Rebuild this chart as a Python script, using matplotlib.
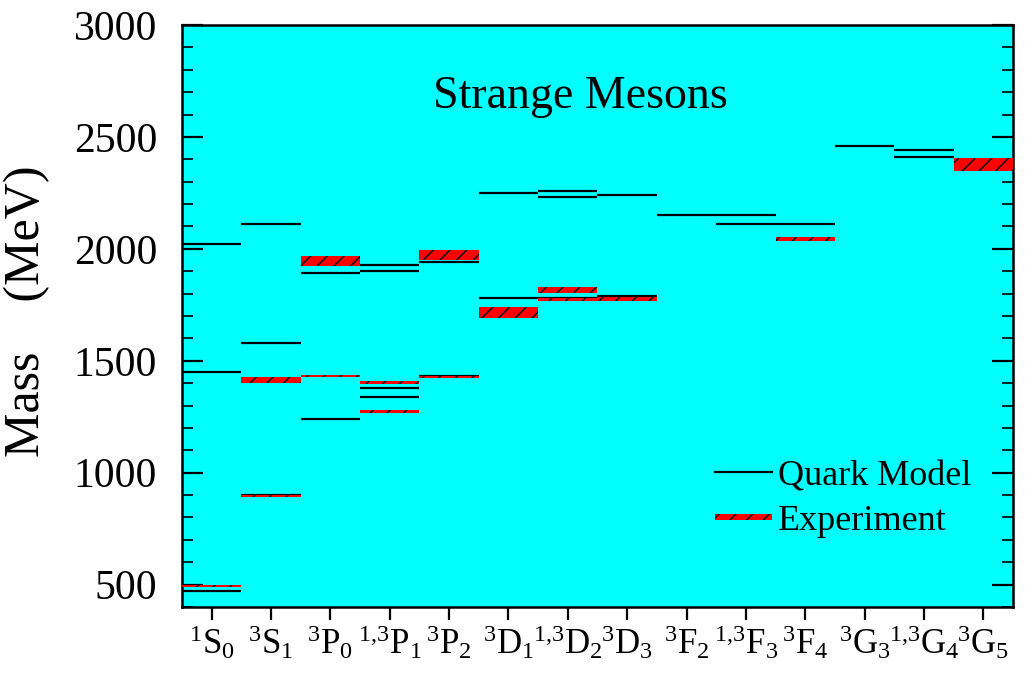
import matplotlib
matplotlib.use('Agg')
import matplotlib.pyplot as plt
import matplotlib.transforms as mtransforms
from matplotlib.lines import Line2D
from matplotlib.patches import Patch, Rectangle
from matplotlib.legend_handler import HandlerPatch

plt.rcParams['font.family'] = 'Liberation Serif'
plt.rcParams['mathtext.fontset'] = 'custom'
plt.rcParams['mathtext.rm'] = 'Liberation Serif'
plt.rcParams['mathtext.it'] = 'Liberation Serif:italic'
plt.rcParams['hatch.linewidth'] = 1.0

# partial waves on the x axis
waves = [r'$^{1}\mathrm{S}_{0}$', r'$^{3}\mathrm{S}_{1}$', r'$^{3}\mathrm{P}_{0}$',
         r'$^{1{,}3}\mathrm{P}_{1}$', r'$^{3}\mathrm{P}_{2}$', r'$^{3}\mathrm{D}_{1}$',
         r'$^{1{,}3}\mathrm{D}_{2}$', r'$^{3}\mathrm{D}_{3}$', r'$^{3}\mathrm{F}_{2}$',
         r'$^{1{,}3}\mathrm{F}_{3}$', r'$^{3}\mathrm{F}_{4}$', r'$^{3}\mathrm{G}_{3}$',
         r'$^{1{,}3}\mathrm{G}_{4}$', r'$^{3}\mathrm{G}_{5}$']

# quark model levels (column index, MeV)
qm_col = [1, 1, 1, 2, 2, 2, 3, 3, 4, 4, 4, 4, 5, 5, 6, 6, 7, 7, 7, 7,
          8, 8, 9, 10, 10, 11, 12, 13, 13, 14]
qm_mass = [470, 1450, 2020, 900, 1580, 2110, 1240, 1890, 1340, 1380, 1900, 1930,
           1430, 1940, 1780, 2250, 1780, 1810, 2230, 2260, 1790, 2240, 2150,
           2110, 2150, 2110, 2460, 2410, 2440, 2390]

# experimental states (column index, mass, half width of band)
exp_col = [1, 2, 2, 3, 3, 4, 4, 5, 5, 6, 7, 7, 8, 11, 14]
exp_mass = [494, 896, 1414, 1431, 1945, 1273, 1402, 1427, 1972, 1715, 1773, 1816,
            1775, 2043, 2378]
exp_err = [5, 5, 14, 5, 23, 7, 7, 4, 21, 25, 8, 13, 9, 9, 30]


def thin_band(legend, orig_handle, xdescent, ydescent, width, height, fontsize):
    # legend sample is a thin strip, like the narrow bands in the plot
    return Rectangle((-xdescent, -ydescent + height / 2 - 2.2), width, 4.4)


fig = plt.figure(figsize=(10.26, 6.8), dpi=100)
ax = fig.add_axes([0.1774, 0.1074, 0.8099, 0.8558])
ax.set_facecolor('#00FFFF')

qm_x = list(range(1, len(waves) + 1))
ax.hlines(qm_mass, [c - 0.5 for c in qm_col], [c + 0.5 for c in qm_col],
          colors='black', linewidth=1.6, zorder=2)

bottoms = [m - e for m, e in zip(exp_mass, exp_err)]
heights = [2 * e for e in exp_err]
ax.bar(exp_col, heights, bottom=bottoms, width=1.0, color='red', linewidth=0, zorder=3)
ax.bar(exp_col, heights, bottom=bottoms, width=1.0, facecolor='none',
       edgecolor='black', hatch='//', linewidth=0, zorder=4)

ax.set_xlim(0.5, 14.5)
ax.set_ylim(400, 3000)
ax.set_xticks(qm_x)
ax.set_xticklabels(waves, fontsize=25)
# labels in the original sit a little right of the ticks
shift = mtransforms.ScaledTranslation(0.07, 0, fig.dpi_scale_trans)
for lab in ax.get_xticklabels():
    lab.set_transform(lab.get_transform() + shift)
ax.set_yticks([500, 1000, 1500, 2000, 2500, 3000])
ax.set_yticks(range(400, 3001, 100), minor=True)
ax.tick_params(axis='y', which='major', direction='in', length=15, width=1.6,
               left=True, right=True, labelsize=30, pad=18)
ax.tick_params(axis='y', which='minor', direction='in', length=8, width=1.2,
               left=True, right=True)
ax.tick_params(axis='x', which='major', direction='out', length=9, width=1.6,
               pad=3, top=False)
for s in ax.spines.values():
    s.set_linewidth(1.8)

ax.set_ylabel('Mass    (MeV)', fontsize=36)
ax.yaxis.set_label_coords(-0.159, 0.509)
ax.text(0.479, 0.876, 'Strange Mesons', transform=ax.transAxes, fontsize=33,
        ha='center', va='center')

h_qm = Line2D([], [], color='black', linewidth=1.6)
h_exp = (Patch(facecolor='red', linewidth=0),
         Patch(facecolor='none', edgecolor='black', hatch='//', linewidth=0))
ax.legend([h_qm, h_exp], ['Quark Model', 'Experiment'], loc='upper left',
          bbox_to_anchor=(0.641, 0.253), frameon=False, fontsize=26,
          handlelength=1.6, handleheight=0.7, handletextpad=0.15,
          borderpad=0, borderaxespad=0, labelspacing=0.32,
          handler_map={Patch: HandlerPatch(patch_func=thin_band)})

fig.savefig('out.png', dpi=100)
